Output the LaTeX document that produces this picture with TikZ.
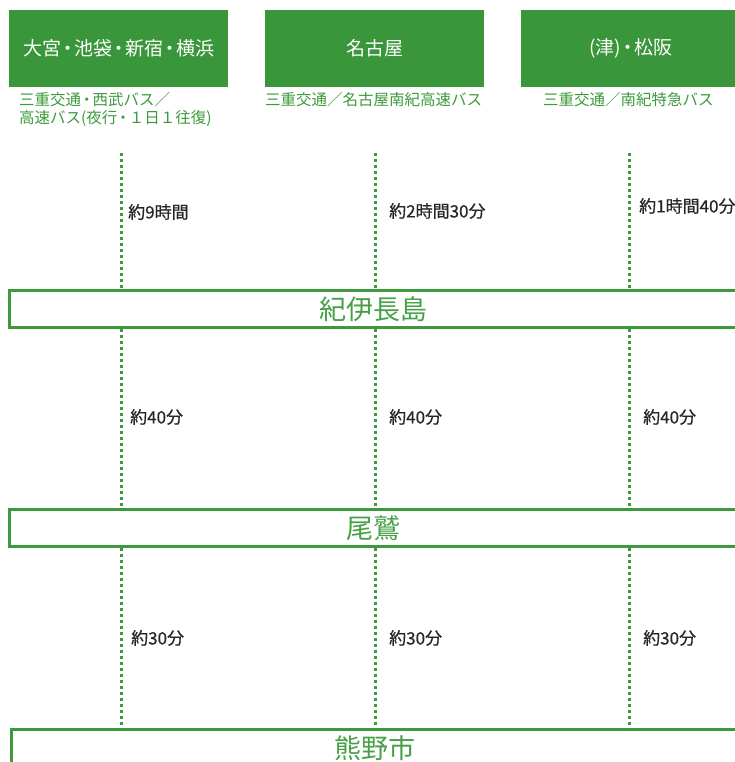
\documentclass[tikz,border=0pt]{standalone}
\usepackage{fontspec}
\setmainfont{Noto Sans CJK JP}
\newfontfamily\tmfont[FakeBold=0.6]{Noto Sans CJK JP}
\newcommand\mdt{\kern-3pt・\kern-3pt}
\newcommand\mds{\kern-2pt・\kern-2pt}
\definecolor{hdr}{HTML}{3A963A}
\definecolor{grn}{HTML}{3C9A3C}
\definecolor{stxt}{HTML}{46A046}
\begin{document}
\begin{tikzpicture}[x=1pt,y=-1pt,
  hdrbox/.style={fill=hdr, text=white, minimum width=219pt, minimum height=77pt, inner sep=0pt, font=\fontsize{19}{22}\selectfont, anchor=north west},
  sub/.style={text=grn, font=\fontsize{15.5}{18}\selectfont, anchor=west, inner sep=0pt, align=left},
  stn/.style={draw=grn, line width=2.5pt, fill=white, minimum width=728pt, minimum height=37pt, inner sep=0pt, anchor=north west, text=stxt, font=\fontsize{27}{30}\selectfont},
  route/.style={draw=grn, line width=3pt, dash pattern=on 3pt off 3pt},
  tm/.style={font=\tmfont\fontsize{17}{20}\selectfont, text=black!85, anchor=west, inner sep=0pt}]
\useasboundingbox (0,0) rectangle (735,762);
\clip (0,0) rectangle (735,762);
% header boxes
\node[hdrbox] (h1) at (9,10) {大宮\mdt 池袋\mdt 新宿\mdt 横浜};
\node[hdrbox] (h2) at (265,10) {名古屋};
\node[hdrbox] (h3) at (521,10) {(津)\mdt 松阪};
% subtitles
\node[sub] (s1) at (19,109) {三重交通\mds 西武バス／\\高速バス(夜行\mds １日１往復)};
\node[sub] (s2) at (265,100) {三重交通／名古屋南紀高速バス};
\node[sub] (s3) at (543,100) {三重交通／南紀特急バス};
% stations
\node[stn] (kii) at (8,289) {紀伊長島};
\node[stn] (owase) at (8,508) {尾鷲};
\node[stn] (kumano) at (10,728) {熊野市};
% route lines
\coordinate (c1) at (121,153);
\coordinate (c2) at (375,153);
\coordinate (c3) at (629,153);
\foreach \c in {c1,c2,c3}{
  \draw[route] (\c) -- (\c |- kii.north);
  \draw[route] (\c |- kii.south) -- (\c |- owase.north);
  \draw[route] (\c |- owase.south) -- (\c |- kumano.north);
}
% times
\node[tm] (t11) at (128,212) {約9時間};
\node[tm] (t12) at (389,211) {約2時間30分};
\node[tm] (t13) at (639,206) {約1時間40分};
\node[tm] (t21) at (130,417) {約40分};
\node[tm] (t22) at (389,417) {約40分};
\node[tm] (t23) at (643,417) {約40分};
\node[tm] (t31) at (131,638) {約30分};
\node[tm] (t32) at (389,638) {約30分};
\node[tm] (t33) at (643,638) {約30分};
\end{tikzpicture}
\end{document}
